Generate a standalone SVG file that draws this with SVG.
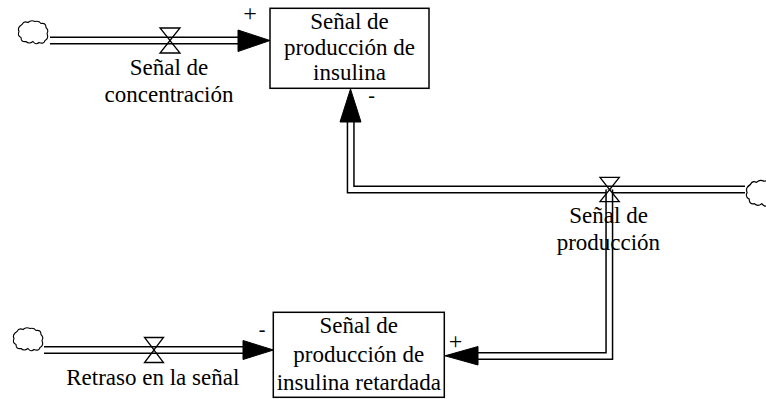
<svg xmlns="http://www.w3.org/2000/svg" width="766" height="399" viewBox="0 0 766 399">
<style>
  .pipe-o { fill: none; stroke: #000; stroke-width: 8; stroke-linejoin: miter; stroke-linecap: butt; }
  .pipe-i { fill: none; stroke: #fff; stroke-width: 5; stroke-linejoin: miter; stroke-linecap: butt; }
  .head { fill: #000; stroke: #000; stroke-width: 1; stroke-linejoin: miter; }
  .box { fill: #fff; stroke: #000; stroke-width: 1.5; }
  .valve { fill: none; stroke: #000; stroke-width: 1.3; stroke-linejoin: miter; }
  .cloud { fill: #fff; stroke: #000; stroke-width: 1.1; }
  .lbl { font-family: "Liberation Serif", "Times New Roman", serif; font-size: 23px; fill: #000; text-anchor: middle; }
  .pol { font-family: "Liberation Serif", "Times New Roman", serif; fill: #000; text-anchor: middle; }
  .plus { font-size: 24px; }
  .minus { font-size: 20px; }
</style>
<defs>
  <path id="cloudShape" d="M5,5 Q7,1 11,3 Q14,0 18,2 Q22,1 24,4 Q29,3 29,8 Q32,11 30,14 Q32,19 28,21 Q27,25 22,23 Q19,26 16,22 Q12,25 9,22 Q4,23 4,18 Q0,16 2,12 Q0,8 5,5 Z"/>
</defs>
<rect width="766" height="399" fill="#fff"/>

<g id="connectors">
  <path class="pipe-o" d="M50,40.5 H239"/>
  <path class="pipe-i" d="M50,40.5 H239"/>
  <polygon class="head" points="270,40.5 238,30 238,51.5"/>
  <path class="pipe-o" d="M745,189.6 H350.7 V121"/>
  <path class="pipe-i" d="M745,189.6 H350.7 V121"/>
  <polygon class="head" points="350.5,89 340,122 361,122"/>
  <path class="pipe-o" d="M609.3,189.6 V356 H477"/>
  <path class="pipe-i" d="M609.3,189.6 V356 H477"/>
  <polygon class="head" points="445,355.8 478,346.5 478,365"/>
  <path class="pipe-o" d="M44,350 H244"/>
  <path class="pipe-i" d="M44,350 H244"/>
  <polygon class="head" points="273.5,350 243,340.5 243,359.5"/>
</g>

<g id="cloud-concentracion">
  <use href="#cloudShape" class="cloud" transform="translate(17,19.5)"/>
</g>
<g id="cloud-produccion">
  <use href="#cloudShape" class="cloud" transform="translate(745,179) scale(1.05,1.12)"/>
</g>
<g id="cloud-retraso">
  <use href="#cloudShape" class="cloud" transform="translate(12,326.5)"/>
</g>

<g id="stock-senal-produccion-insulina">
  <rect class="box" x="270" y="8.3" width="159" height="80"/>
  <text class="lbl" x="349.5" y="29">Señal de</text>
  <text class="lbl" x="349.5" y="55">producción de</text>
  <text class="lbl" x="349.5" y="80">insulina</text>
</g>

<g id="stock-senal-produccion-insulina-retardada">
  <rect class="box" x="273.3" y="312.3" width="171" height="85"/>
  <text class="lbl" x="358.8" y="333">Señal de</text>
  <text class="lbl" x="358.8" y="362">producción de</text>
  <text class="lbl" x="358.8" y="390">insulina retardada</text>
</g>

<g id="flow-senal-concentracion">
  <polygon class="valve" points="160,28 180,28 170,40.5"/>
  <polygon class="valve" points="170,40.5 160,53 180,53"/>
  <text class="lbl" x="169" y="75">Señal de</text>
  <text class="lbl" x="169" y="101.7">concentración</text>
</g>

<g id="flow-senal-produccion">
  <polygon class="valve" points="600,177.3 619.3,177.3 609.6,189.6"/>
  <polygon class="valve" points="609.6,189.6 600,201.7 619.3,201.7"/>
  <text class="lbl" x="608.6" y="223.3">Señal de</text>
  <text class="lbl" x="608.4" y="250">producción</text>
</g>

<g id="flow-retraso-senal">
  <polygon class="valve" points="144.5,337.5 163.5,337.5 154,350"/>
  <polygon class="valve" points="154,350 144.5,362.5 163.5,362.5"/>
  <text class="lbl" x="152.8" y="385">Retraso en la señal</text>
</g>

<g id="polarities">
  <text class="pol plus" x="250" y="21.4">+</text>
  <text class="pol minus" x="371.6" y="102">-</text>
  <text class="pol minus" x="262" y="336">-</text>
  <text class="pol plus" x="455.6" y="349.4">+</text>
</g>
</svg>
